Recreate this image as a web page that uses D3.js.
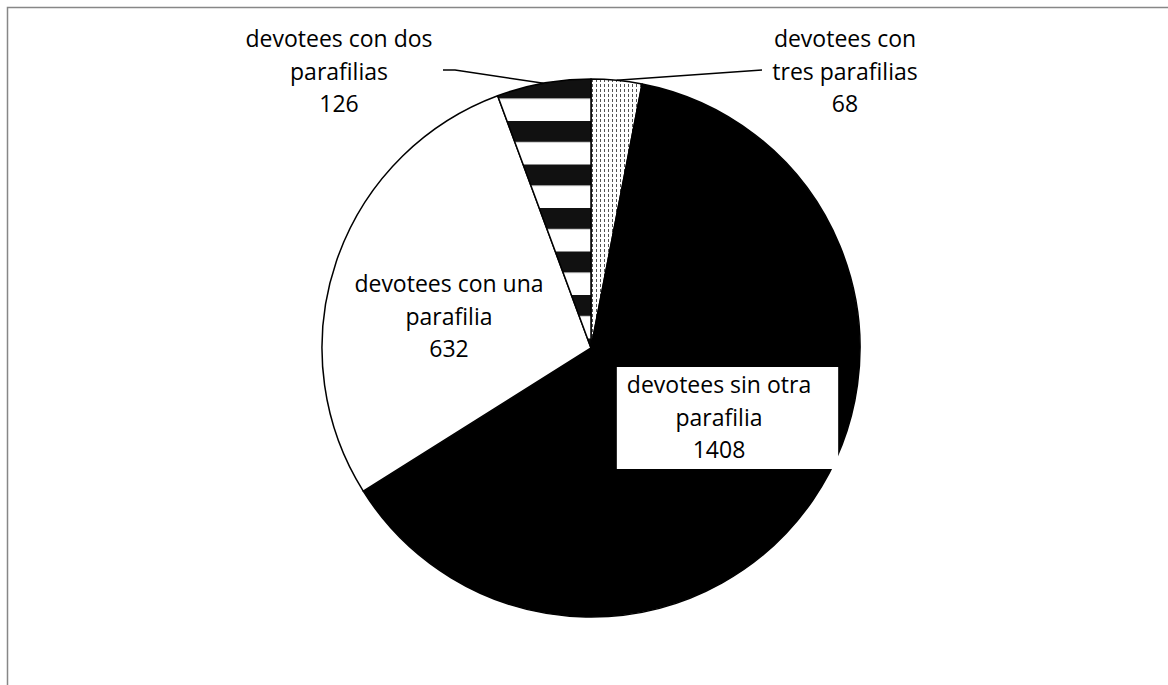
<!DOCTYPE html>
<html lang="es">
<head>
  <meta charset="UTF-8">
  <title>Devotees y parafilias</title>
  <script src="https://d3js.org/d3.v7.min.js"></script>
  <style>
    body { margin: 0; background: #fff; }
    svg { display: block; }
    text { font-family: "Open Sans", sans-serif; font-size: 23px; fill: #000; }
  </style>
</head>
<body>
  <div id="chart"></div>
  <script>
    // datos (en el orden en que se dibujan, empezando a las 12 y en sentido horario)
    const categories = ["tres", "sin otra", "una", "dos"];
    const values = [68, 1408, 632, 126];
    const labelLines = [
      ["devotees con", "tres parafilias"],
      ["devotees sin otra", "parafilia"],
      ["devotees con una", "parafilia"],
      ["devotees con dos", "parafilias"]
    ];

    const width = 1168, height = 685;
    const cx = 591, cy = 348, radius = 269;
    const lineH = 32.5;

    // posiciones de las etiquetas (centro x, primera linea base y)
    const labelPos = {
      "tres": [845, 47],
      "sin otra": [719, 393],
      "una": [449, 292],
      "dos": [339, 47]
    };

    const svg = d3.select('#chart').append('svg')
      .attr('width', width)
      .attr('height', height);

    const defs = svg.append('defs');

    // rayas horizontales para "dos"
    const stripes = defs.append('pattern')
      .attr('id', 'stripes')
      .attr('patternUnits', 'userSpaceOnUse')
      .attr('width', 200).attr('height', 43.5)
      .attr('y', 34);
    stripes.append('rect').attr('width', 200).attr('height', 43.5).attr('fill', '#fff');
    stripes.append('rect').attr('width', 200).attr('height', 21).attr('fill', '#111');

    // punteado para "tres"
    const dots = defs.append('pattern')
      .attr('id', 'dots')
      .attr('patternUnits', 'userSpaceOnUse')
      .attr('width', 4).attr('height', 5);
    dots.append('rect').attr('width', 4).attr('height', 5).attr('fill', '#fff');
    dots.append('rect').attr('x', 1).attr('y', 1).attr('width', 1).attr('height', 3).attr('fill', '#555');

    const fills = {
      "tres": "url(#dots)",
      "sin otra": "#000",
      "una": "#fff",
      "dos": "url(#stripes)"
    };

    // marco del grafico
    svg.append('rect')
      .attr('x', 7.5).attr('y', 7.5)
      .attr('width', width + 20).attr('height', height + 20)
      .attr('fill', 'none')
      .attr('stroke', '#878787')
      .attr('stroke-width', 1.5);

    const pie = d3.pie().sort(null).value(d => d.value);
    const arcs = pie(categories.map((c, i) => ({ cat: c, value: values[i], lines: labelLines[i] })));
    const arc = d3.arc().innerRadius(0).outerRadius(radius);

    const g = svg.append('g').attr('transform', `translate(${cx},${cy})`);

    g.selectAll('path')
      .data(arcs)
      .enter()
      .append('path')
      .attr('d', arc)
      .attr('fill', d => fills[d.data.cat])
      .attr('stroke', '#000')
      .attr('stroke-width', 1.5)
      .attr('stroke-linejoin', 'round');

    // lineas guia para las porciones pequeñas
    function edgePoint(d) {
      const a = (d.startAngle + d.endAngle) / 2;
      return [cx + radius * Math.sin(a), cy - radius * Math.cos(a)];
    }
    const leaderStart = {
      "dos": [[443, 70], [455, 70]],
      "tres": [[762, 70]]
    };
    arcs.filter(d => leaderStart[d.data.cat]).forEach(d => {
      const pts = leaderStart[d.data.cat].concat([edgePoint(d)]);
      svg.append('path')
        .attr('d', d3.line()(pts))
        .attr('fill', 'none')
        .attr('stroke', '#000')
        .attr('stroke-width', 1.5);
    });

    // etiquetas
    arcs.forEach(d => {
      const [lx, ly] = labelPos[d.data.cat];
      const lines = d.data.lines.concat([String(d.data.value)]);
      const lg = svg.append('g');
      const t = lg.append('text').attr('text-anchor', 'middle');
      lines.forEach((s, i) => {
        t.append('tspan').attr('x', lx).attr('y', ly + i * lineH).text(s);
      });
      if (d.data.cat === 'sin otra') {
        const bb = t.node().getBBox();
        lg.insert('rect', 'text')
          .attr('x', bb.x - 10)
          .attr('y', bb.y - 1)
          .attr('width', bb.width + 37)
          .attr('height', bb.height + 5)
          .attr('fill', '#fff');
      }
    });
  </script>
</body>
</html>
